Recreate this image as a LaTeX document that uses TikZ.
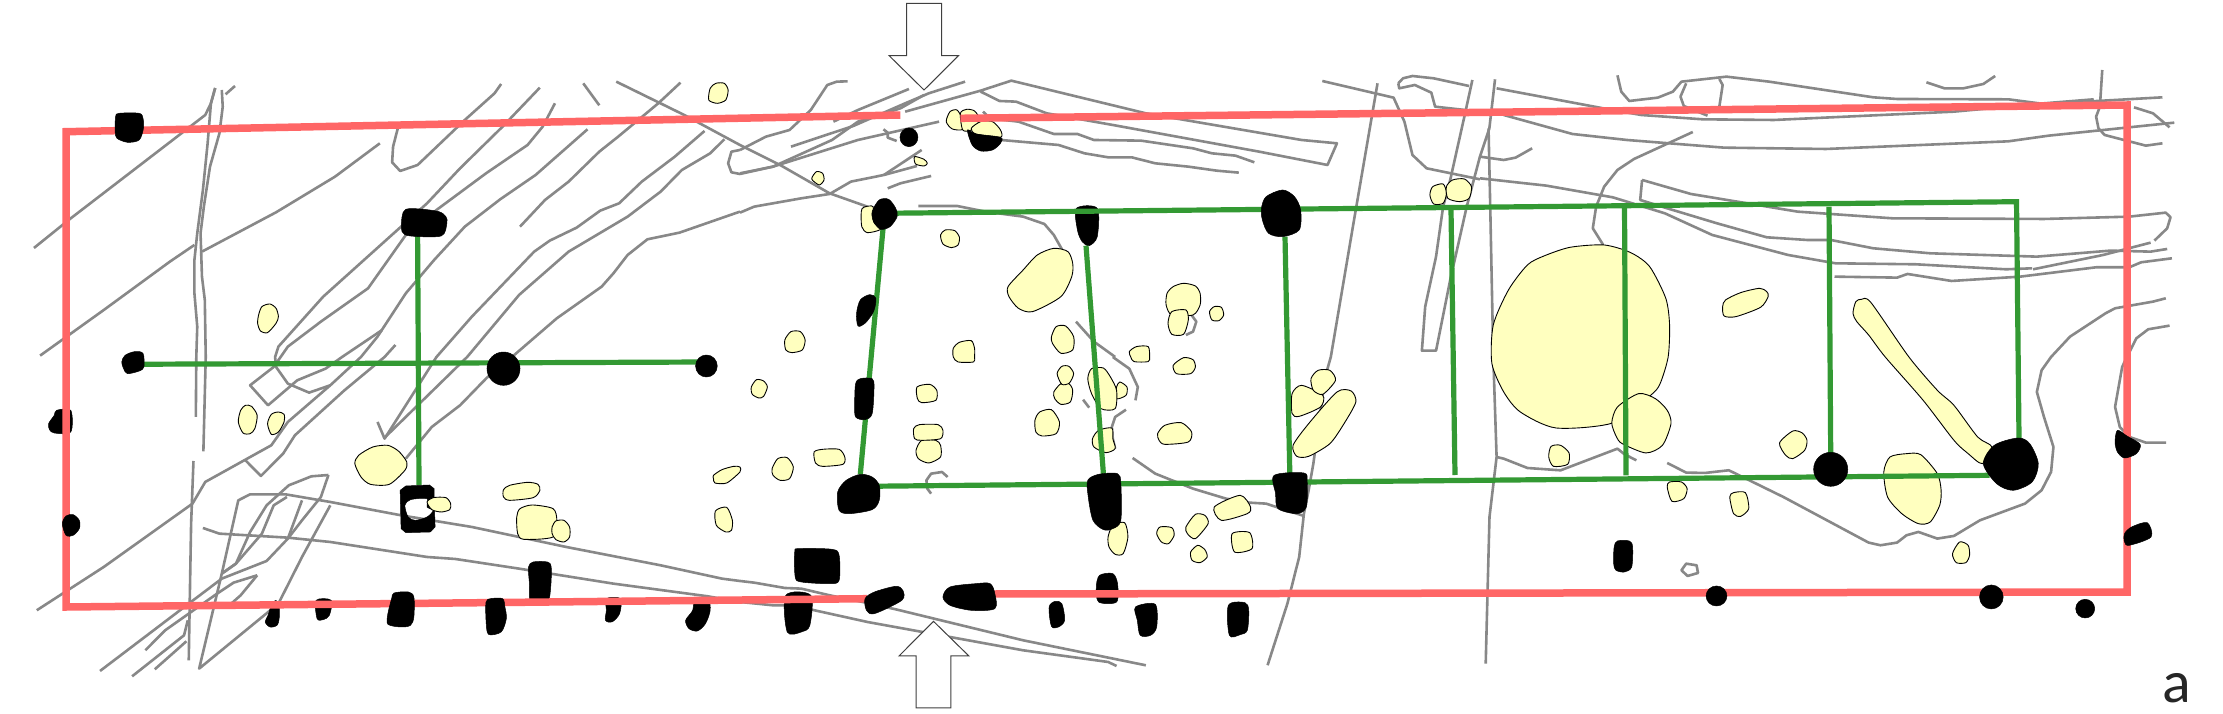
\documentclass[tikz,border=0pt]{standalone}
\usepackage{fontspec}
\setmainfont{Carlito}
\definecolor{redw}{HTML}{FF6666}
\definecolor{greenw}{HTML}{339933}
\definecolor{grayl}{HTML}{888888}
\definecolor{yell}{HTML}{FFFFBF}
\newcommand{\gp}[1]{\draw[gline] plot coordinates {#1};}
\newcommand{\gc}[1]{\draw[gline] plot coordinates {#1} -- cycle;}
\newcommand{\yb}[1]{\filldraw[yblob] plot[smooth cycle,tension=0.45] coordinates {#1};}
\newcommand{\kb}[1]{\fill[kblob] plot[smooth cycle,tension=0.5] coordinates {#1};}
\newcommand{\ke}[4]{\fill[kblob] (#1,#2) ellipse [x radius=#3, y radius=#4];}
\tikzset{
 gline/.style={draw=grayl,line width=2.6bp,line join=round},
 yblob/.style={fill=yell,draw=black,line width=0.9bp,line join=round},
 kblob/.style={fill=black,draw=black,line width=0.5bp,line join=round},
 redwall/.style={draw=redw,line width=7.5bp,line join=miter},
 greenwall/.style={draw=greenw,line width=5.2bp,line join=miter},
 bigarrow/.style={fill=white,draw=black!75,line width=1bp,line join=miter},
 pa/.style={x=0.4719bp,y=-0.3333bp},
 pb/.style={shift={(0,357)},x=0.4719bp,y=-0.3333bp},
 pc/.style={shift={(740,0)},x=0.4719bp,y=-0.3333bp},
 pd/.style={shift={(740,357)},x=0.4719bp,y=-0.3333bp},
 pe/.style={shift={(1480,0)},x=0.4739bp,y=-0.3333bp},
 pf/.style={shift={(1480,357)},x=0.4739bp,y=-0.3333bp},
}
\begin{document}
\begin{tikzpicture}[x=1bp,y=-1bp]
\useasboundingbox (0,0) rectangle (2223,714);
\fill[white] (0,0) rectangle (2223,714);
% ---------- gray lines
\begin{scope}[pa]
\gp{(72,744)(150,655)(435,345)(447,310)(456,264)}
\gp{(478,283)(498,258)}
\gp{(456,264)(447,310)(440,430)(430,570)(418,700)(412,780)(412,880)(418,980)(416,1071)(415,1251)}
\gp{(470,270)(472,320)(465,400)(445,500)(432,620)(425,700)(428,830)(434,900)(436,1071)(431,1354)}
\gp{(85,1067)(220,930)(360,785)(412,735)}
\gp{(428,755)(585,637)(710,530)(805,430)}
\gp{(843,385)(833,440)(831,487)(848,513)(885,495)(985,360)(1048,280)(1062,252)}
\gp{(1144,263)(1065,380)(975,505)(905,610)(850,680)(685,890)(590,1040)(583,1071)(585,1101)(610,1151)(655,1178)(700,1156)}
\gp{(1176,310)(1150,380)(1118,435)(1030,520)(925,630)(900,660)(860,705)(780,865)(680,965)(610,1040)(580,1101)(530,1156)(568,1216)(630,1141)(690,1106)(725,1071)(810,990)}
\gp{(1245,388)(1135,525)(1060,598)(985,680)(920,780)(860,880)(800,1010)(765,1071)(700,1156)(610,1266)(575,1336)(435,1446)(408,1511)(220,1701)(78,1831)}
\gp{(1442,248)(1395,310)(1310,410)(1270,455)(1205,545)(1155,600)(1102,680)}
\gp{(1236,250)(1270,316)}
\gp{(1306,245)(1450,345)(1568,435)(1653,495)(1758,580)(1838,620)}
\gp{(1493,393)(1430,470)(1360,545)(1312,610)(1272,632)(1222,683)(1165,722)(1132,755)(1000,950)(925,1071)(815,1316)(800,1266)}
\gp{(1535,418)(1505,460)(1445,510)(1400,575)(1330,650)(1205,755)(1100,885)(990,1071)(813,1316)}
\gp{(1568,635)(1440,698)(1372,718)(1330,765)(1300,820)(1275,860)(1180,955)(1085,1071)(1032,1133)(975,1216)(915,1281)(860,1376)}
\gp{(838,1035)(815,1071)(730,1171)(625,1306)(600,1361)(553,1428)(520,1381)}
\gp{(1568,450)(1550,455)(1543,490)(1550,517)(1568,522)(1638,500)(1818,420)(1990,365)}
\end{scope}
\begin{scope}[pb]
\gp{(410,312)(405,500)(402,740)(400,910)}
\gp{(696,354)(660,358)(612,385)(565,445)(530,525)(500,620)(470,650)}
\gp{(608,420)(580,445)(555,530)(500,620)(470,650)}
\gp{(640,430)(610,545)(565,612)(470,665)(400,740)(212,942)}
\gp{(696,354)(680,420)(640,490)(610,545)}
\gp{(545,655)(495,677)(460,710)(400,770)(350,820)(308,880)}
\gp{(545,655)(510,715)(490,740)}
\gp{(700,445)(640,600)(590,740)(422,935)(470,650)(505,430)(530,412)(605,412)(700,435)(850,475)(1000,510)(1200,570)(1400,625)(1530,665)(1568,672)}
\gp{(430,513)(465,530)(610,542)(700,555)(905,600)(965,606)(1100,635)(1300,680)(1500,718)(1568,735)}
\gp{(398,790)(390,835)(280,958)}
\gp{(395,853)(328,937)}
\end{scope}
\begin{scope}[pc]
\gp{(0,450)(55,410)(105,390)(150,330)(185,255)(205,245)(228,244)}
\gp{(198,365)(250,330)(358,267)}
\gp{(108,440)(240,378)(350,310)(400,280)(477,245)}
\gp{(0,520)(70,500)(195,420)(250,365)(340,325)(390,285)}
\gp{(350,335)(510,272)(575,242)(860,340)(1190,420)(1265,430)(1245,495)(1100,455)(790,375)(650,340)(585,305)(550,303)(510,275)}
\gp{(515,335)(530,355)(590,365)(665,402)(715,402)(750,420)(850,422)(960,445)(1000,460)(1050,467)(1090,487)}
\gp{(553,420)(675,435)(730,460)(780,472)(830,472)(880,490)(950,500)(1010,512)(1057,518)}
\gp{(304,388)(313,398)(313,413)(332,423)}
\gp{(385,450)(305,525)}
\gp{(375,498)(305,525)(235,545)(190,582)(130,595)(30,620)(0,638)}
\gp{(405,528)(340,550)(313,565)}
\gp{(378,618)(460,618)(520,635)(600,650)(645,672)(665,705)(683,750)}
\gp{(712,965)(750,1025)(795,1071)}
\gp{(1234,243)(1385,293)(1408,365)(1425,465)(1455,505)(1568,538)}
\gp{(1351,250)(1300,670)(1252,1071)(1240,1131)(1215,1391)(1205,1471)(1195,1541)(1185,1671)(1160,1811)(1118,1996)}
\gp{(1552,240)(1535,350)(1505,540)(1490,620)(1475,770)(1452,920)(1445,1052)(1475,1052)(1505,840)(1540,620)(1568,470)(1588,385)(1600,238)}
\gp{(1395,250)(1405,235)(1425,228)(1470,235)(1545,258)}
\gp{(1395,250)(1397,265)(1430,255)(1465,278)(1473,320)(1568,335)}
\gp{(950,932)(967,965)(960,995)(945,1005)}
\end{scope}
\begin{scope}[pd]
\gp{(790,0)(825,35)(843,90)(838,130)}
\gp{(0,672)(30,677)(95,693)(130,695)(190,715)(260,735)(330,757)(600,850)(860,925)}
\gp{(0,735)(70,745)(110,745)(270,795)(600,880)(780,915)(798,927)}
\gp{(727,128)(740,152)}
\gp{(818,158)(795,180)(788,210)(790,245)(795,275)}
\gp{(832,303)(880,350)(960,395)(1030,425)(1080,437)(1115,440)(1195,477)}
\gp{(440,360)(428,345)(405,350)(395,370)(397,395)(405,410)}
\end{scope}
\begin{scope}[pe]
\gp{(18,385)(22,650)(28,1071)(35,1371)(20,1551)(12,1991)}
\gp{(35,265)(260,325)(340,345)(470,358)(620,360)(1000,335)(1190,310)(1295,298)}
\gp{(290,226)(298,275)(315,303)(375,293)(407,275)(425,245)(520,230)(610,245)(830,292)(880,297)(1115,298)(1190,312)(1440,292)}
\gp{(435,250)(423,290)(430,318)(480,347)}
\gp{(505,237)(512,255)(505,320)}
\gp{(942,247)(980,265)(1020,265)(1062,252)(1087,228)}
\gp{(1313,210)(1308,320)(1300,350)(1305,385)(1318,405)(1405,437)(1440,430)}
\gp{(1380,322)(1420,340)(1455,382)}
\gp{(50,345)(195,402)(310,420)(515,443)(730,447)(1115,424)(1200,407)(1465,368)}
\gp{(0,470)(50,480)(75,473)(110,445)}
\gp{(449,396)(325,477)(290,510)(262,560)(245,620)(238,685)(260,735)}
\gp{(0,535)(140,557)(280,592)(390,640)(490,705)(650,765)(750,790)(920,793)(1110,808)(1165,805)}
\gp{(342,540)(338,600)(395,625)(500,670)(605,712)(690,720)(740,720)(830,745)(950,760)(1175,770)(1330,752)(1415,755)(1450,747)}
\gp{(342,540)(445,582)(670,635)(870,655)(1190,657)(1370,650)(1447,638)(1457,652)(1450,685)(1423,722)}
\gp{(1167,808)(1315,765)(1415,728)}
\gp{(748,830)(880,833)(902,822)(995,843)(1140,830)(1300,802)(1370,802)(1395,787)(1460,775)}
\gp{(1447,895)(1420,905)(1340,925)(1320,940)(1245,1010)(1205,1071)(1185,1111)(1175,1176)(1190,1251)(1210,1341)(1205,1416)(1185,1471)(1150,1511)(1055,1561)(1000,1608)(965,1616)(925,1596)(900,1606)(880,1628)(845,1636)(820,1628)(640,1491)(525,1411)(475,1419)(435,1418)(395,1389)}
\gp{(1455,977)(1410,988)(1385,1015)(1365,1071)(1355,1101)(1340,1221)(1350,1281)(1370,1311)(1405,1328)(1448,1328)}
\end{scope}
\begin{scope}[pf]
\gp{(35,300)(50,305)(100,333)(170,340)(290,275)(305,292)(330,310)}
\gc{(425,640)(435,620)(457,625)(460,648)(438,657)}
\end{scope}
% ---------- yellow stones
\begin{scope}[pa]
\yb{(1505,265)(1517,250)(1535,250)(1543,270)(1538,300)(1520,310)(1502,300)}
\yb{(548,945)(555,920)(572,912)(585,925)(590,950)(585,970)(567,998)(552,993)(546,970)}
\end{scope}
\begin{scope}[pb]
\yb{(505,195)(510,160)(520,145)(533,148)(545,175)(540,215)(530,230)(515,228)}
\yb{(567,200)(575,172)(590,165)(602,172)(602,195)(590,225)(575,232)}
\yb{(752,320)(760,295)(790,270)(822,265)(845,283)(862,315)(858,340)(825,382)(785,382)(765,360)}
\yb{(1512,355)(1530,338)(1555,328)(1568,330)(1568,345)(1540,378)(1515,378)(1512,365)}
\yb{(1067,398)(1080,385)(1118,376)(1140,382)(1144,400)(1130,422)(1080,430)(1067,420)}
\yb{(1516,462)(1540,451)(1552,490)(1550,520)(1538,525)(1518,505)}
\yb{(1095,480)(1102,455)(1128,444)(1172,455)(1180,490)(1172,540)(1110,547)(1097,530)}
\yb{(1170,510)(1178,492)(1195,490)(1207,510)(1207,540)(1195,555)(1178,548)(1170,530)}
\end{scope}
\begin{scope}[pc]
\yb{(437,365)(445,335)(460,330)(470,355)(472,388)(450,387)}
\yb{(467,340)(480,328)(497,333)(508,360)(490,390)(472,390)}
\yb{(490,385)(510,365)(535,365)(552,390)(552,412)(500,402)}
\yb{(370,470)(390,478)(397,490)(390,498)(372,492)}
\yb{(152,537)(162,515)(175,520)(178,540)(168,555)}
\yb{(257,635)(262,622)(282,620)(283,665)(298,688)(270,698)(258,680)}
\yb{(425,705)(435,690)(455,692)(465,712)(462,735)(448,743)(430,732)}
\yb{(568,860)(600,810)(630,765)(665,745)(695,755)(705,790)(703,830)(680,890)(620,935)(590,925)(570,890)}
\yb{(905,880)(918,860)(940,850)(965,858)(975,880)(975,915)(960,945)(915,945)(903,915)}
\yb{(907,970)(915,935)(945,930)(950,960)(940,1003)(915,1003)}
\yb{(995,935)(1005,920)(1020,922)(1025,945)(1015,962)(1000,960)}
\yb{(95,1020)(108,995)(128,995)(138,1020)(132,1050)(110,1058)(97,1050)}
\yb{(660,1010)(670,980)(690,978)(707,1010)(705,1050)(680,1060)(662,1030)}
\yb{(452,1045)(465,1027)(490,1022)(497,1045)(497,1071)(495,1086)(462,1086)(452,1071)}
\yb{(825,1055)(840,1040)(865,1040)(868,1071)(865,1085)(835,1085)(828,1071)}
\yb{(1462,585)(1468,560)(1490,552)(1497,580)(1490,610)(1470,612)}
\yb{(1497,560)(1510,540)(1535,537)(1550,560)(1545,595)(1525,605)(1500,595)}
\end{scope}
\begin{scope}[pd]
\yb{(24,90)(35,68)(50,72)(58,90)(50,118)(40,123)(26,112)}
\yb{(375,90)(402,82)(417,100)(415,130)(385,137)(376,125)}
\yb{(373,280)(385,250)(415,250)(425,265)(425,300)(400,318)(378,305)}
\yb{(368,215)(380,203)(420,203)(430,220)(425,245)(385,250)(370,245)}
\yb{(157,285)(175,277)(210,277)(222,300)(218,322)(175,328)(160,318)}
\yb{(68,335)(80,305)(100,302)(113,330)(105,365)(85,370)(70,355)}
\yb{(665,105)(680,80)(697,80)(705,100)(700,135)(680,142)(667,125)}
\yb{(672,50)(682,28)(697,28)(707,50)(698,78)(682,82)}
\yb{(798,90)(805,75)(820,90)(818,115)(798,125)}
\yb{(737,65)(745,35)(770,33)(785,60)(798,100)(795,155)(765,155)(745,110)}
\yb{(625,190)(635,165)(660,158)(677,195)(670,230)(640,237)(627,225)}
\yb{(747,245)(760,220)(788,213)(790,245)(795,275)(775,287)(750,270)}
\yb{(885,230)(900,205)(935,197)(957,225)(950,255)(900,262)(888,250)}
\yb{(918,25)(940,2)(960,8)(965,30)(955,50)(925,50)}
\yb{(1170,110)(1190,85)(1235,115)(1230,150)(1185,178)(1170,170)}
\yb{(1210,65)(1225,40)(1250,40)(1262,70)(1235,112)(1215,100)}
\yb{(1172,265)(1205,200)(1265,105)(1295,102)(1305,135)(1280,200)(1250,260)(1205,298)(1180,298)}
\yb{(1005,450)(1060,415)(1082,450)(1075,470)(1020,490)}
\yb{(945,510)(965,472)(985,475)(992,500)(965,545)(948,530)}
\yb{(883,530)(890,510)(915,512)(920,535)(908,560)(893,555)}
\yb{(955,585)(970,565)(985,578)(990,600)(975,617)(958,610)}
\yb{(1043,530)(1080,527)(1085,575)(1048,585)}
\yb{(780,540)(790,505)(815,497)(822,540)(812,590)(795,592)(782,570)}
\end{scope}
\begin{scope}[pe]
\yb{(28,975)(60,870)(100,795)(135,768)(190,742)(262,735)(318,758)(358,800)(392,895)(400,975)(397,1071)(380,1151)(360,1186)(280,1269)(160,1284)(85,1236)(50,1176)(25,1090)}
\yb{(278,1269)(290,1221)(335,1181)(370,1196)(395,1231)(403,1271)(385,1336)(350,1359)(300,1331)(288,1311)}
\yb{(512,920)(518,900)(550,878)(590,865)(605,875)(608,890)(592,922)(540,950)(515,948)}
\yb{(787,940)(793,905)(805,898)(825,908)(905,1071)(965,1171)(1000,1216)(1050,1311)(1080,1341)(1060,1391)(1030,1361)(1000,1321)(935,1201)(855,1071)(820,1005)(795,965)}
\end{scope}
\begin{scope}[pf]
\yb{(145,300)(150,268)(170,265)(188,288)(185,322)(155,328)}
\yb{(395,390)(400,375)(425,375)(437,395)(430,425)(405,433)}
\yb{(527,420)(535,407)(560,407)(567,455)(550,478)(535,470)}
\yb{(632,258)(660,222)(680,228)(690,250)(685,280)(660,305)(645,295)}
\yb{(852,345)(865,300)(900,290)(930,293)(965,350)(973,400)(970,445)(950,495)(925,500)(890,470)(860,420)}
\yb{(997,590)(1012,555)(1030,565)(1033,595)(1025,617)(1005,617)}
\end{scope}
% ---------- posts that the walls cross over
\begin{scope}[pb]
\kb{(103,200)(115,175)(120,160)(150,160)(150,225)(115,228)(105,218)}
\kb{(1120,630)(1130,615)(1160,615)(1168,630)(1167,690)(1160,735)(1125,735)(1122,680)}
\kb{(568,775)(578,735)(590,735)(592,780)(587,805)(572,810)(562,795)}
\kb{(670,730)(702,730)(698,775)(685,788)(672,785)}
\kb{(1285,725)(1315,725)(1313,770)(1297,795)(1283,790)(1285,760)}
\kb{(1472,725)(1500,725)(1505,760)(1495,800)(1478,822)(1460,815)(1453,790)(1468,760)}
\end{scope}
\begin{scope}[pc]
\kb{(713,625)(757,625)(757,710)(740,737)(725,725)(715,690)}
\end{scope}
\begin{scope}[pd]
\kb{(97,715)(150,715)(148,805)(130,825)(100,825)}
\kb{(755,690)(762,655)(790,650)(800,680)(798,735)(760,735)}
\end{scope}
% ---------- red wall
\draw[redwall] (900.4,115) -- (66,131.7) -- (66,607) -- (867,598.7);
\draw[redwall] (960.4,118.3) -- (2127,105) -- (2127,592) -- (992,594);
% ---------- green walls
\draw[greenwall] (124,364.3) -- (706,362);
\draw[greenwall] (417.6,236) -- (419,485);
\draw[greenwall] (884,213.3) -- (2016.5,201.7) -- (2019,439);
\draw[greenwall] (867,486.3) -- (1989.5,475.3);
\draw[greenwall] (883,229) -- (860.3,474.3);
\draw[greenwall] (1086,245.7) -- (1103.4,473.7);
\draw[greenwall] (1285,236.7) -- (1289.8,473.7);
\draw[greenwall] (1451,210) -- (1455,475);
\draw[greenwall] (1624.5,206.7) -- (1626,475.3);
\draw[greenwall] (1829,206.7) -- (1830.7,453.7);
% ---------- black posts
\begin{scope}[pa]
\kb{(245,350)(252,340)(295,340)(303,355)(304,385)(295,420)(270,427)(248,415)(244,395)}
\kb{(852,650)(860,628)(890,627)(930,635)(945,650)(947,670)(935,708)(870,708)(852,695)}
\end{scope}
\begin{scope}[pb]
\kb{(265,-5)(285,-16)(303,-11)(305,30)(295,42)(270,50)(262,35)(258,15)}
\ke{1067}{35}{35}{50}
\ke{1497}{27}{23}{33}
\kb{(132,500)(140,477)(155,473)(168,490)(168,515)(155,535)(140,535)}
\kb{(830,725)(835,708)(865,705)(877,720)(877,780)(870,805)(850,810)(822,802)(822,770)}
\kb{(1030,735)(1040,725)(1065,725)(1070,750)(1073,785)(1062,825)(1035,832)(1030,790)}
\fill[kblob,even odd rule] (848,400)--(860,387)--(910,384)--(920,395)--(920,425)--(922,510)--(912,525)--(860,527)--(850,515)--cycle
 plot[smooth cycle,tension=0.5] coordinates {(858,445)(870,428)(905,425)(905,450)(918,460)(905,480)(880,490)(865,480)};
\yb{(905,435)(918,422)(945,422)(955,440)(953,458)(935,465)(915,458)}
\end{scope}
\begin{scope}[pc]
\kb{(280,635)(295,600)(315,598)(330,625)(333,650)(318,680)(298,688)(283,665)}
\ke{358}{412}{19}{28}
\kb{(482,390)(500,402)(552,412)(552,430)(535,450)(510,453)(492,435)}
\kb{(1105,625)(1115,590)(1150,570)(1175,590)(1188,630)(1185,690)(1150,710)(1120,700)(1107,660)}
\kb{(247,940)(255,900)(275,884)(288,895)(283,935)(265,970)(250,978)}
\end{scope}
\begin{scope}[pd]
\kb{(245,80)(255,65)(280,65)(284,90)(280,170)(265,188)(245,180)(243,140)}
\kb{(207,405)(225,370)(255,352)(280,360)(295,385)(295,430)(280,458)(232,470)(210,460)}
\kb{(737,370)(760,352)(800,350)(807,380)(807,490)(790,515)(770,518)(748,490)(738,420)}
\kb{(1132,355)(1195,348)(1202,375)(1200,450)(1180,470)(1140,455)(1135,410)}
\kb{(116,585)(125,575)(195,577)(210,595)(210,670)(190,680)(130,675)(117,660)}
\kb{(265,725)(285,705)(330,688)(345,700)(343,730)(285,770)(268,760)}
\kb{(430,720)(445,690)(500,680)(530,680)(540,710)(540,755)(490,760)(445,745)}
\kb{(655,750)(668,733)(682,740)(688,790)(675,810)(660,808)}
\kb{(838,750)(880,742)(883,810)(870,835)(848,835)(842,790)}
\kb{(1035,745)(1070,737)(1078,760)(1075,820)(1060,833)(1037,835)}
\end{scope}
\begin{scope}[pf]
\ke{740}{337}{36}{51}
\kb{(1062,320)(1085,265)(1135,243)(1160,260)(1178,320)(1165,375)(1125,400)(1090,380)}
\kb{(1340,255)(1345,220)(1365,237)(1393,262)(1385,290)(1360,303)(1345,285)}
\kb{(1360,530)(1375,510)(1408,497)(1416,540)(1370,565)(1360,555)}
\kb{(283,570)(290,552)(315,552)(322,570)(320,630)(305,645)(287,640)(282,620)}
\ke{499}{717}{22}{30}
\ke{1079}{720}{25}{36}
\ke{1277}{755}{20}{28}
\end{scope}
% ---------- section arrows
\begin{scope}[pc]
\draw[bigarrow] plot coordinates {(353,10)(427,10)(427,167)(463,167)(390,270)(316,167)(353,167)} -- cycle;
\end{scope}
\begin{scope}[pd]
\draw[bigarrow] plot coordinates {(373,1053)(447,1053)(447,897)(485,897)(410,793)(337,897)(373,897)} -- cycle;
\end{scope}
\node[anchor=base,inner sep=0pt,text=black!85,font=\fontsize{60}{60}\selectfont] (labela) at (2177,702) {a};
\end{tikzpicture}
\end{document}
